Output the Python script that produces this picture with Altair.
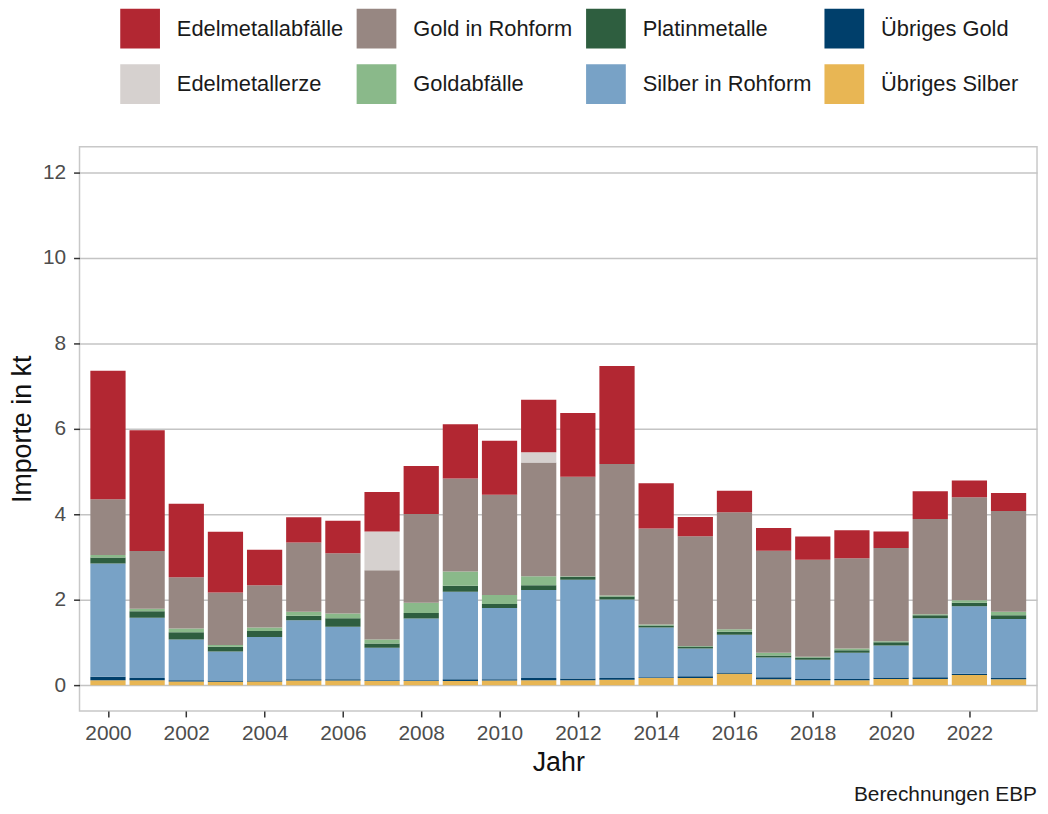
import altair as alt
import pandas as pd

years = list(range(2000, 2024))

series = [
    "Edelmetallabfälle", "Gold in Rohform", "Platinmetalle", "Übriges Gold",
    "Edelmetallerze", "Goldabfälle", "Silber in Rohform", "Übriges Silber",
]
colors = [
    "#B22732", "#978782", "#2E5E3F", "#003F6B",
    "#D6D1CF", "#8AB98A", "#78A2C6", "#E8B654",
]
# stacking order from bottom to top
stack_order = [
    "Übriges Silber", "Übriges Gold", "Silber in Rohform", "Platinmetalle",
    "Goldabfälle", "Gold in Rohform", "Edelmetallerze", "Edelmetallabfälle",
]

ubr_silber = [0.12, 0.12, 0.09, 0.08, 0.09, 0.11, 0.11, 0.10, 0.10, 0.10, 0.11, 0.12,
              0.12, 0.13, 0.17, 0.17, 0.27, 0.14, 0.12, 0.12, 0.15, 0.15, 0.24, 0.14]
ubr_gold = [0.08, 0.05, 0.03, 0.03, 0.02, 0.03, 0.03, 0.02, 0.02, 0.04, 0.03, 0.05,
            0.04, 0.04, 0.02, 0.04, 0.03, 0.05, 0.03, 0.03, 0.03, 0.04, 0.03, 0.03]
silber = [2.65, 1.41, 0.95, 0.68, 1.02, 1.38, 1.23, 0.76, 1.44, 2.05, 1.67, 2.06,
          2.31, 1.84, 1.16, 0.65, 0.88, 0.46, 0.45, 0.61, 0.75, 1.38, 1.58, 1.38]
platin = [0.14, 0.15, 0.17, 0.11, 0.14, 0.11, 0.20, 0.10, 0.13, 0.14, 0.09, 0.11,
          0.07, 0.07, 0.05, 0.05, 0.07, 0.05, 0.05, 0.06, 0.08, 0.07, 0.08, 0.09]
goldabf = [0.06, 0.06, 0.09, 0.04, 0.08, 0.09, 0.11, 0.09, 0.24, 0.33, 0.21, 0.21,
           0.01, 0.02, 0.02, 0.01, 0.06, 0.06, 0.02, 0.04, 0.02, 0.02, 0.06, 0.08]
gold = [1.30, 1.35, 1.20, 1.23, 0.99, 1.62, 1.41, 1.62, 2.08, 2.18, 2.35, 2.66,
        2.33, 3.08, 2.25, 2.57, 2.74, 2.39, 2.27, 2.11, 2.18, 2.23, 2.41, 2.36]
erze = [0, 0, 0, 0, 0, 0, 0, 0.91, 0, 0, 0, 0.24,
        0, 0, 0, 0, 0, 0, 0, 0, 0, 0, 0, 0]
abf = [3.01, 2.83, 1.72, 1.42, 0.83, 0.59, 0.76, 0.92, 1.12, 1.27, 1.26, 1.23,
       1.49, 2.29, 1.06, 0.45, 0.50, 0.53, 0.54, 0.66, 0.39, 0.65, 0.39, 0.42]

values = {
    "Übriges Silber": ubr_silber,
    "Übriges Gold": ubr_gold,
    "Silber in Rohform": silber,
    "Platinmetalle": platin,
    "Goldabfälle": goldabf,
    "Gold in Rohform": gold,
    "Edelmetallerze": erze,
    "Edelmetallabfälle": abf,
}

rows = []
for s, vals in values.items():
    for y, v in zip(years, vals):
        rows.append({"Jahr": y, "Kategorie": s, "Wert": v, "rank": stack_order.index(s)})
df = pd.DataFrame(rows)

FONT = "Liberation Sans"

chart = alt.Chart(df).transform_calculate(
    x0="datum.Jahr - 0.45", x1="datum.Jahr + 0.45"
).mark_bar(strokeWidth=0).encode(
    x=alt.X("x0:Q",
            scale=alt.Scale(domain=[1999.4, 2023.6], nice=False, zero=False),
            axis=alt.Axis(values=list(range(2000, 2023, 2)), format="d", title="Jahr",
                          grid=False)),
    x2="x1:Q",
    y=alt.Y("sum(Wert):Q", stack="zero",
            scale=alt.Scale(domain=[-0.6, 12.6], nice=False, zero=False),
            axis=alt.Axis(values=list(range(0, 13, 2)), title="Importe in kt", grid=True)),
    color=alt.Color("Kategorie:N",
                    scale=alt.Scale(domain=series, range=colors),
                    legend=alt.Legend(
                        title=None, orient="none", legendX=41, legendY=-139,
                        columns=4, direction="horizontal", symbolType="square",
                        symbolSize=1600, symbolStrokeWidth=0, labelFontSize=22,
                        labelColor="#1a1a1a", labelOffset=17, rowPadding=16,
                        columnPadding=13, gridAlign="each", padding=0,
                        labelLimit=400)),
    order=alt.Order("rank:Q", sort="ascending"),
).properties(
    width=964, height=568,
    autosize=alt.AutoSizeParams(type="none"),
    padding={"left": 72, "top": 137, "right": 3, "bottom": 93},
    title=alt.TitleParams("Berechnungen EBP", orient="bottom", anchor="end",
                          fontSize=21, fontWeight="normal", color="#1a1a1a",
                          font=FONT, offset=9),
).configure(
    font=FONT,
).configure_view(
    stroke="#c8c8c8", strokeWidth=1.5,
).configure_axis(
    domain=False,
    labelFontSize=21, labelColor="#4d4d4d", labelFont=FONT,
    tickColor="#333333", tickSize=6, tickWidth=1.5,
    titleFontSize=27, titleFontWeight="normal", titleColor="#111111", titleFont=FONT,
    gridColor="#c4c4c4", gridWidth=1.5,
).configure_axisX(
    labelPadding=6, titlePadding=6,
).configure_axisY(
    labelPadding=8, titlePadding=6,
)

chart.save("out.html", embed_options={"renderer": "svg", "actions": False})
